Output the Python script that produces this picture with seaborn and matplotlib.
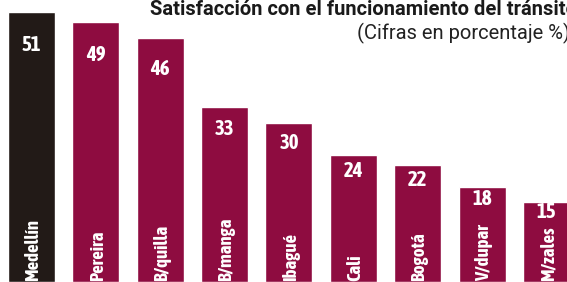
import numpy as np
import pandas as pd
import matplotlib
matplotlib.use('Agg')
import matplotlib.pyplot as plt
from matplotlib import font_manager
import seaborn as sns

ciudades = ['Medellín', 'Pereira', 'B/quilla', 'B/manga', 'Ibagué', 'Cali', 'Bogotá', 'V/dupar', 'M/zales']
valores = [51, 49, 46, 33, 30, 24, 22, 18, 15]
colores = ['#221a17'] + ['#8e0c40'] * 8

sns.set_theme(style='white')

# fuentes estrechas que tengan negrita
fuentes = font_manager.fontManager.ttflist
estrechas = sorted({f.name for f in fuentes
                    if ('Condensed' in f.name or 'Narrow' in f.name)})
con_negrita = [n for n in estrechas
               if any(f.name == n and f.weight in ('bold', 700, 'heavy', 800, 900)
                      for f in fuentes)]
plt.rcParams['font.family'] = ['Roboto', 'DejaVu Sans']
negrita = con_negrita + ['Roboto', 'DejaVu Sans']

df = pd.DataFrame({'ciudad': ciudades, 'valor': valores})

fig, ax = plt.subplots(figsize=(5.67, 2.82), dpi=100)
fig.subplots_adjust(left=0, right=1, top=1, bottom=0)
sns.barplot(data=df, x='ciudad', y='valor', hue='ciudad', palette=colores,
            width=0.73, legend=False, ax=ax, saturation=1)

for i, (c, v) in enumerate(zip(ciudades, valores)):
    ax.text(i, v * 0.875, str(v), ha='center', va='center', color='white',
            fontsize=15, fontweight='bold', family=negrita)
    ax.text(i + 0.03, 0.25, c, ha='center', va='bottom', rotation=90,
            color='white', fontsize=13.5, fontweight='bold', family=negrita)

ax.set_xlim(-0.49, 8.32)
ax.set_ylim(0, 53.2)
ax.set_axis_off()

fig.text(0.265, 0.965, 'Satisfacción con el funcionamiento del tránsito',
         ha='left', va='center', fontsize=14.5, fontweight='bold', color='#1a1a1a')
fig.text(0.63, 0.882, '(Cifras en porcentaje %)', ha='left', va='center',
         fontsize=14.5, color='#222222')

fig.savefig('out.png', dpi=100)
